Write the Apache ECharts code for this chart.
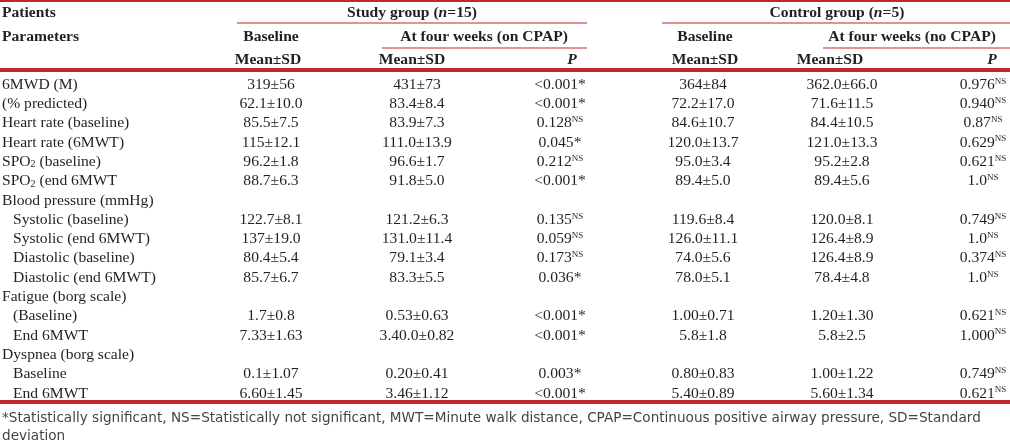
<!DOCTYPE html>
<html><head><meta charset="utf-8">
<script src="https://cdn.jsdelivr.net/npm/echarts@6/dist/echarts.min.js"></script>
<style>html,body{margin:0;padding:0;background:#fff}#c{width:1010px;height:443px}</style>
</head><body><div id="c"></div>
<script>
// ---------------- DATA ----------------
const parameters = ['6MWD (M)','(% predicted)','Heart rate (baseline)','Heart rate (6MWT)','SPO2 (baseline)','SPO2 (end 6MWT','Blood pressure (mmHg)','Systolic (baseline)','Systolic (end 6MWT)','Diastolic (baseline)','Diastolic (end 6MWT)','Fatigue (borg scale)','(Baseline)','End 6MWT','Dyspnea (borg scale)','Baseline','End 6MWT'];
const studyBaseline = ['319±56','62.1±10.0','85.5±7.5','115±12.1','96.2±1.8','88.7±6.3','','122.7±8.1','137±19.0','80.4±5.4','85.7±6.7','','1.7±0.8','7.33±1.63','','0.1±1.07','6.60±1.45'];
const studyFourWeeks = ['431±73','83.4±8.4','83.9±7.3','111.0±13.9','96.6±1.7','91.8±5.0','','121.2±6.3','131.0±11.4','79.1±3.4','83.3±5.5','','0.53±0.63','3.40.0±0.82','','0.20±0.41','3.46±1.12'];
const studyP = ['<0.001*','<0.001*','0.128NS','0.045*','0.212NS','<0.001*','','0.135NS','0.059NS','0.173NS','0.036*','','<0.001*','<0.001*','','0.003*','<0.001*'];
const controlBaseline = ['364±84','72.2±17.0','84.6±10.7','120.0±13.7','95.0±3.4','89.4±5.0','','119.6±8.4','126.0±11.1','74.0±5.6','78.0±5.1','','1.00±0.71','5.8±1.8','','0.80±0.83','5.40±0.89'];
const controlFourWeeks = ['362.0±66.0','71.6±11.5','84.4±10.5','121.0±13.3','95.2±2.8','89.4±5.6','','120.0±8.1','126.4±8.9','126.4±8.9','78.4±4.8','','1.20±1.30','5.8±2.5','','1.00±1.22','5.60±1.34'];
const controlP = ['0.976NS','0.940NS','0.87NS','0.629NS','0.621NS','1.0NS','','0.749NS','1.0NS','0.374NS','1.0NS','','0.621NS','1.000NS','','0.749NS','0.621NS'];
const headerRow1 = ['Patients','Study group (n=15)','Control group (n=5)'];
const headerRow2 = ['Parameters','Baseline','At four weeks (on CPAP)','Baseline','At four weeks (no CPAP)'];
const headerRow3 = ['Mean±SD','Mean±SD','P','Mean±SD','Mean±SD','P'];
const footnoteLines = ['*Statistically significant, NS=Statistically not significant, MWT=Minute walk distance, CPAP=Continuous positive airway pressure, SD=Standard','deviation'];

// ---------------- LAYOUT / STYLE ----------------
const RED = '#c1272d', INK = '#231f20';
const SERIF = '"Liberation Serif", "Times New Roman", serif';
const FS = 15.6;
const FONT = FS + 'px ' + SERIF, BFONT = 'bold ' + FS + 'px ' + SERIF;
const FOOT = '13.6px "DejaVu Sans", sans-serif';
const indentRows = [7,8,9,10,12,13,15,16];
const rowTop = 75, rowH = 19.3;
const colX = [2, 271, 417, 560, 703, 842, 983];
const rich = {
  sup: {fontSize: 9, fontFamily: SERIF, fill: INK, verticalAlign: 'top', lineHeight: 9, padding: [0,0,2,0]},
  sub: {fontSize: 10, fontFamily: SERIF, fill: INK, verticalAlign: 'bottom', lineHeight: 10, padding: [5,0,0,0]},
  i: {fontSize: FS, fontFamily: SERIF, fontStyle: 'italic', fontWeight: 'bold', fill: INK}
};
function fmt(t) {
  return t.replace(/NS$/, '{sup|NS}').replace(/^SPO2/, 'SPO{sub|2}').replace(/\(n=/, '({i|n}=');
}
const columns = [
  {texts: parameters, align: 'left'},
  {texts: studyBaseline, align: 'center'},
  {texts: studyFourWeeks, align: 'center'},
  {texts: studyP, align: 'center'},
  {texts: controlBaseline, align: 'center'},
  {texts: controlFourWeeks, align: 'center'},
  {texts: controlP, align: 'center'}
];

const series = columns.map((col, c) => ({
  type: 'custom', silent: true, animation: false, clip: false,
  data: col.texts.map((t, r) => [colX[c], r]),
  renderItem: function (params, api) {
    const r = api.value(1);
    const pt = api.coord([api.value(0), r]);
    const t = col.texts[params.dataIndex];
    const dx = (c === 0 && indentRows.indexOf(params.dataIndex) >= 0) ? 11 : 0;
    return {type: 'text', style: {x: pt[0] + dx, y: pt[1], text: fmt(t), align: col.align, verticalAlign: 'middle', font: FONT, fill: INK, rich: rich}};
  }
}));

function txt(s, x, y, align, font) {
  return {type: 'text', silent: true, style: {x: x, y: y, text: fmt(s), align: align, verticalAlign: 'middle', font: font || BFONT, fill: INK, rich: rich}};
}
function hline(x1, x2, y, w) {
  return {type: 'line', silent: true, shape: {x1: x1, y1: y, x2: x2, y2: y}, style: {stroke: RED, lineWidth: w}};
}
const graphics = [
  hline(0, 1010, 1, 2),
  hline(237, 587, 23, 1.2), hline(662, 1010, 23, 1.2),
  hline(382, 587, 48, 1.2), hline(823, 1010, 48, 1.2),
  hline(0, 1010, 70, 4),
  hline(0, 1010, 402, 4),
  txt(headerRow1[0], 2, 13, 'left'),
  txt(headerRow1[1], 412, 13, 'center'),
  txt(headerRow1[2], 837, 13, 'center'),
  txt(headerRow2[0], 2, 37, 'left'),
  txt(headerRow2[1], 271, 37, 'center'),
  txt(headerRow2[2], 484, 37, 'center'),
  txt(headerRow2[3], 705, 37, 'center'),
  txt(headerRow2[4], 912, 37, 'center'),
  txt(headerRow3[0], 268, 60, 'center'),
  txt(headerRow3[1], 412, 60, 'center'),
  txt(headerRow3[2], 572, 60, 'center', 'bold italic ' + FS + 'px ' + SERIF),
  txt(headerRow3[3], 705, 60, 'center'),
  txt(headerRow3[4], 830, 60, 'center'),
  txt(headerRow3[5], 992, 60, 'center', 'bold italic ' + FS + 'px ' + SERIF),
  {type: 'text', silent: true, style: {x: 2, y: 418, text: footnoteLines[0], verticalAlign: 'middle', font: FOOT, fill: '#444'}},
  {type: 'text', silent: true, style: {x: 2, y: 436, text: footnoteLines[1], verticalAlign: 'middle', font: FOOT, fill: '#444'}}
];

const chart = echarts.init(document.getElementById('c'), null, {renderer: 'canvas'});
chart.setOption({
  animation: false,
  backgroundColor: '#fff',
  grid: {left: 0, right: 0, top: rowTop, height: rowH * parameters.length},
  xAxis: {type: 'value', min: 0, max: 1010, show: false},
  yAxis: {type: 'category', data: parameters, inverse: true, show: false},
  series: series,
  graphic: graphics
});
</script></body></html>
